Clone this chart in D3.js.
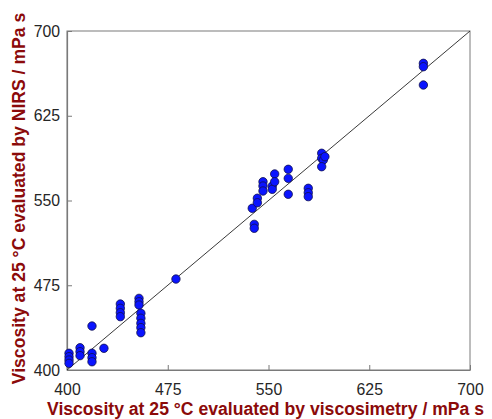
<!DOCTYPE html>
<html>
<head>
<meta charset="utf-8">
<script src="https://cdn.jsdelivr.net/npm/d3@7"></script>
<style>
  html, body { margin: 0; padding: 0; background: #fff; }
  svg { display: block; }
</style>
</head>
<body>
<svg id="chart" width="492" height="419"></svg>
<script>
// Viscosity at 25 °C: reference (viscosimetry) vs. NIRS prediction
const viscosimetry = [
  401.5, 401.5, 401.5, 401.5,
  409.7, 409.7, 409.7,
  418.6, 418.6, 418.6, 418.6,
  427.5,
  439.7, 439.7, 439.7, 439.7,
  453.6, 453.6, 453.6,
  455.0, 455.0, 455.0, 455.0, 455.0,
  481.1,
  537.9, 539.4, 539.4, 541.7, 541.7,
  545.9, 545.9, 545.9,
  552.8, 552.8, 554.6, 554.6,
  564.7, 564.7, 564.7,
  579.6, 579.6, 579.6,
  589.6, 589.6, 590.8, 592.0, 589.6,
  665.3, 665.3, 665.3
];
const nirs = [
  414.8, 411.8, 408.8, 405.9,
  419.7, 416.2, 412.7,
  438.9, 414.8, 410.9, 407.3,
  419.2,
  458.4, 454.6, 450.7, 447.2,
  463.4, 460.4, 457.5,
  450.2, 445.8, 441.3, 437.5, 433.0,
  480.5,
  543.1, 528.9, 525.4, 552.0, 548.0,
  566.6, 562.8, 558.4,
  562.8, 559.9, 573.5, 566.6,
  577.6, 569.6, 555.5,
  560.8, 556.9, 553.4,
  591.8, 587.3, 585.8, 588.8, 579.9,
  671.4, 668.4, 652.2
];
const xTicks = [400, 475, 550, 625, 700];
const yTicks = [400, 475, 550, 625, 700];
const xTitle = "Viscosity at 25 °C evaluated by viscosimetry / mPa s";
const yTitle = "Viscosity at 25 °C evaluated by NIRS / mPa s";

const svg = d3.select("#chart");
const margin = { left: 67, right: 22, top: 31, bottom: 49 };
const W = 492, H = 419;

const x = d3.scaleLinear().domain([400, 700]).range([margin.left, W - margin.right]);
const y = d3.scaleLinear().domain([400, 700]).range([H - margin.bottom, margin.top]);

const axisColor = "#7a7a7a";
const labelColor = "#262626";
const titleColor = "#8b0a0a";
const font = "'Liberation Sans', Arial, sans-serif";

// Box (top and right edges)
svg.append("rect")
  .attr("x", x(400)).attr("y", y(700))
  .attr("width", x(700) - x(400)).attr("height", y(400) - y(700))
  .attr("fill", "none").attr("stroke", axisColor).attr("stroke-width", 1);

// Axes with inward ticks
const xAxis = svg.append("g")
  .attr("transform", `translate(0,${y(400)})`)
  .call(d3.axisBottom(x).tickValues(xTicks).tickSizeInner(-5).tickSizeOuter(0).tickPadding(10));
const yAxis = svg.append("g")
  .attr("transform", `translate(${x(400)},0)`)
  .call(d3.axisLeft(y).tickValues(yTicks).tickSizeInner(-5).tickSizeOuter(0).tickPadding(7));

[xAxis, yAxis].forEach(g => {
  g.select(".domain").attr("stroke", axisColor).attr("stroke-width", 1.2);
  g.selectAll(".tick line").attr("stroke", axisColor);
  g.selectAll(".tick text")
    .attr("fill", labelColor)
    .style("font-family", font)
    .style("font-size", "15.8px");
});
xAxis.selectAll(".tick text").attr("dy", "0.95em");

// 1:1 reference line
svg.append("line")
  .attr("x1", x(400)).attr("y1", y(400))
  .attr("x2", x(700)).attr("y2", y(700))
  .attr("stroke", "#222").attr("stroke-width", 0.9);

// Data points
const pts = viscosimetry.map((v, i) => ({ v, n: nirs[i] }));
svg.append("g").selectAll("circle")
  .data(pts).enter().append("circle")
  .attr("cx", d => x(d.v))
  .attr("cy", d => y(d.n))
  .attr("r", 4.2)
  .attr("fill", "#0a14ff")
  .attr("stroke", "#10104a")
  .attr("stroke-width", 0.8);

// Axis titles
svg.append("text")
  .attr("x", 47)
  .attr("y", 415)
  .attr("text-anchor", "start")
  .attr("fill", titleColor)
  .style("font-family", font)
  .style("font-weight", "bold")
  .style("font-size", "17.6px")
  .text(xTitle);

svg.append("text")
  .attr("transform", `translate(25,${(y(400) + y(700)) / 2 - 2}) rotate(-90)`)
  .attr("text-anchor", "middle")
  .attr("fill", titleColor)
  .style("font-family", font)
  .style("font-weight", "bold")
  .style("font-size", "17.6px")
  .text(yTitle);
</script>
</body>
</html>
